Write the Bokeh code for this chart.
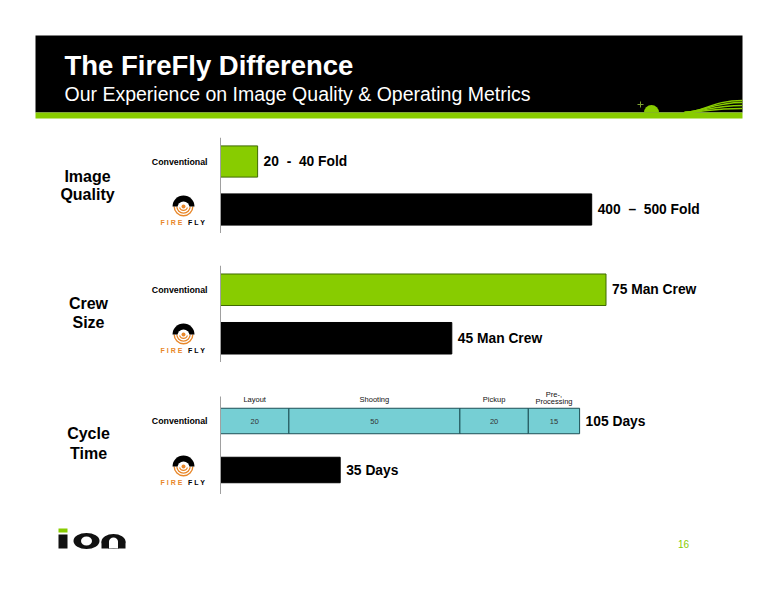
from math import pi

from bokeh.core.properties import value
from bokeh.embed import file_html
from bokeh.layouts import column
from bokeh.models import ColumnDataSource, LabelSet, Range1d
from bokeh.plotting import figure
from bokeh.resources import INLINE

# row 0 is the FireFly bar, row 1 the conventional one
rows = [0, 1]
row_names = {0: "", 1: "Conventional"}

quality_values = [400, 40]
quality_labels = ["400\u00a0\u00a0\u2013\u00a0\u00a0500 Fold", "20\u00a0\u00a0-\u00a0\u00a040 Fold"]
crew_values = [45, 75]
crew_labels = ["45 Man Crew", "75 Man Crew"]
cycle_firefly = [35]
cycle_firefly_labels = ["35 Days"]
cycle_total = [105]
cycle_total_labels = ["105 Days"]
phase_names = ["Layout", "Shooting", "Pickup", "Processing"]
phase_values = [20, 50, 20, 15]

GREEN = "#88cc00"
DARK_GREEN = "#3f6a00"
TEAL = "#76cfd4"
DARK_TEAL = "#1d4f55"
ORANGE = "#e8872a"
FONT = value("Liberation Sans")

PAGE_LEFT, PAGE_RIGHT = 0, 760
AXIS_X = 220


def make_panel(top, bottom, border_top, px_per_unit, head=0):
    # frame covers the whole width so the logo and headings can sit left of the axis
    # head is extra room above the two rows, for headings over the bars
    row_px = (bottom - top) / 2
    p = figure(width=PAGE_RIGHT - PAGE_LEFT, height=bottom - top + head + border_top, output_backend="svg",
               toolbar_location=None, y_range=Range1d(-0.5, 1.5 + head / row_px),
               x_range=Range1d((PAGE_LEFT - AXIS_X) / px_per_unit, (PAGE_RIGHT - AXIS_X) / px_per_unit),
               min_border=0, min_border_top=border_top, outline_line_color=None)
    p.extra_x_ranges["page_x"] = Range1d(PAGE_LEFT, PAGE_RIGHT)
    p.extra_y_ranges["page_y"] = Range1d(bottom, top - head)
    p.grid.visible = False
    p.xaxis.visible = False
    p.yaxis.fixed_location = 0
    p.yaxis.bounds = (-0.5, 1.5)
    p.yaxis.ticker = rows
    p.yaxis.major_tick_line_color = None
    p.yaxis.minor_tick_line_color = None
    p.yaxis.axis_line_color = "#a0a0a0"
    p.yaxis.major_label_overrides = row_names
    p.yaxis.major_label_text_font = "Liberation Sans"
    p.yaxis.major_label_text_font_style = "bold"
    p.yaxis.major_label_text_font_size = "8.8px"
    p.yaxis.major_label_text_color = "#000000"
    p.yaxis.major_label_standoff = 7
    return p


def page_text(p, x, y, text, size, color="#000000", style="bold", align="center"):
    p.text(x=[x], y=[y], text=[text], x_range_name="page_x", y_range_name="page_y",
           text_font=FONT, text_font_size=size, text_font_style=style, text_color=color,
           text_align=align, text_baseline="middle")


def add_logo(p, cx, cy):
    kw = dict(x_range_name="page_x", y_range_name="page_y")
    # y runs downwards on page_y, so the lower half is drawn with these angles
    for outer, inner in [(10, 8.6), (7.3, 5.9), (4.6, 3.2)]:
        p.annular_wedge(x=[cx], y=[cy], inner_radius=inner, outer_radius=outer, start_angle=pi, end_angle=2 * pi,
                        fill_color=ORANGE, line_color=None, **kw)
    p.wedge(x=[cx], y=[cy], radius=11, start_angle=0, end_angle=pi, fill_color="#000000", line_color=None, **kw)
    p.wedge(x=[cx], y=[cy + 1], radius=6, start_angle=0, end_angle=pi, fill_color="#ffffff", line_color=None, **kw)
    p.circle(x=[cx], y=[cy], radius=2, fill_color=ORANGE, line_color=None, **kw)
    page_text(p, cx - 12, cy + 16, "F I R E", "7px", color=ORANGE)
    page_text(p, cx + 13, cy + 16, "F L Y", "7px")


def add_value_labels(p, values, ys, labels):
    p.text(x=values, y=ys, text=labels, x_offset=6, text_font=FONT, text_font_size="13.8px",
           text_font_style="bold", text_color="#000000", text_align="left", text_baseline="middle")


# header band
header = figure(width=760, height=137, output_backend="svg", toolbar_location=None,
                x_range=Range1d(PAGE_LEFT, PAGE_RIGHT), y_range=Range1d(137, 0),
                x_axis_location=None, y_axis_location=None, min_border=0, outline_line_color=None)
header.grid.visible = False
header.quad(left=[35], right=[742], top=[35], bottom=[112], fill_color="#000000", line_color=None)
header.quad(left=[35], right=[742], top=[112], bottom=[118], fill_color=GREEN, line_color=None)
header.wedge(x=[651], y=[112], radius=7.5, start_angle=0, end_angle=pi, fill_color=GREEN, line_color=None)
header.segment(x0=[637], y0=[104], x1=[643], y1=[104], line_color="#7aa030", line_width=1)
header.segment(x0=[640], y0=[101], x1=[640], y1=[107], line_color="#7aa030", line_width=1)
for y1 in [100, 102, 105, 108]:
    header.bezier(x0=[684], y0=[112], x1=[742], y1=[y1], cx0=[705], cy0=[111], cx1=[712], cy1=[y1],
                  line_color=GREEN, line_width=1.5)
header.text(x=[64], y=[65], text=["The FireFly Difference"], text_font=FONT, text_font_size="27.5px",
            text_font_style="bold", text_color="#ffffff", text_baseline="middle")
header.text(x=[64], y=[93], text=["Our Experience on Image Quality & Operating Metrics"], text_font=FONT,
            text_font_size="19.5px", text_color="#ffffff", text_baseline="middle")

# image quality
quality = make_panel(137, 233, 0, 0.928)
quality.hbar(y=rows, right=quality_values, left=0, height=0.65, fill_color=["#000000", GREEN],
             line_color=["#000000", DARK_GREEN])
add_value_labels(quality, quality_values, rows, quality_labels)
page_text(quality, 87, 176, "Image", "16px")
page_text(quality, 87, 194, "Quality", "16px")
add_logo(quality, 183, 206)

# crew size
crew = make_panel(265, 362, 32, 5.14)
crew.hbar(y=rows, right=crew_values, left=0, height=0.65, fill_color=["#000000", GREEN],
          line_color=["#000000", DARK_GREEN])
add_value_labels(crew, crew_values, rows, crew_labels)
page_text(crew, 88, 303, "Crew", "16px")
page_text(crew, 88, 322, "Size", "16px")
add_logo(crew, 183, 334)

# cycle time, the conventional bar is split in phases
cycle = make_panel(396, 494, 24, 3.42, head=10)
starts = [sum(phase_values[:i]) for i in range(len(phase_values))]
ends = [s + v for s, v in zip(starts, phase_values)]
mids = [(s + e) / 2 for s, e in zip(starts, ends)]
cycle.hbar(y=[rows[1]] * 4, left=starts, right=ends, height=0.52, fill_color=TEAL, line_color=DARK_TEAL)
cycle.hbar(y=[rows[0]], left=0, right=cycle_firefly, height=0.52, fill_color="#000000", line_color="#000000")
cycle.text(x=mids, y=[rows[1]] * 4, text=[str(v) for v in phase_values], text_font=FONT, text_font_size="7.5px",
           text_color="#333333", text_align="center", text_baseline="middle")
add_value_labels(cycle, cycle_total, [rows[1]], cycle_total_labels)
add_value_labels(cycle, cycle_firefly, [rows[0]], cycle_firefly_labels)
# the last heading has a second line above it
phase_src = ColumnDataSource(dict(x=mids + [mids[-1]], y=[399, 399, 399, 401, 394], name=phase_names + ["Pre-,"]))
cycle.add_layout(LabelSet(x="x", y="y", text="name", source=phase_src, y_range_name="page_y",
                          text_font=FONT, text_font_size="7.5px", text_color="#111111",
                          text_align="center", text_baseline="middle"))
page_text(cycle, 88, 433, "Cycle", "16px")
page_text(cycle, 88, 453, "Time", "16px")
add_logo(cycle, 183, 466)

# footer with the ion mark and page number
footer = figure(width=760, height=98, output_backend="svg", toolbar_location=None,
                x_range=Range1d(PAGE_LEFT, PAGE_RIGHT), y_range=Range1d(592, 494),
                x_axis_location=None, y_axis_location=None, min_border=0, outline_line_color=None)
footer.grid.visible = False
footer.quad(left=[58], right=[67], top=[528], bottom=[532], fill_color=GREEN, line_color=None)
footer.quad(left=[58], right=[67], top=[534], bottom=[548], fill_color="#111111", line_color=None)
footer.ellipse(x=[86], y=[540.5], width=26, height=16, fill_color="#111111", line_color=None)
footer.ellipse(x=[86], y=[540.5], width=11, height=9, fill_color="#ffffff", line_color=None)
footer.ellipse(x=[113], y=[541], width=24, height=15, fill_color="#111111", line_color=None)
footer.quad(left=[101], right=[125], top=[541], bottom=[548], fill_color="#111111", line_color=None)
footer.ellipse(x=[113], y=[541], width=9, height=8, fill_color="#ffffff", line_color=None)
footer.quad(left=[108.5], right=[117.5], top=[541], bottom=[548], fill_color="#ffffff", line_color=None)
footer.text(x=[683], y=[543], text=["16"], text_font=FONT, text_font_size="10px", text_color=GREEN,
            text_align="center", text_baseline="middle")

page = column(header, quality, crew, cycle, footer, spacing=0)
open("out.html", "w").write(file_html(page, INLINE))
